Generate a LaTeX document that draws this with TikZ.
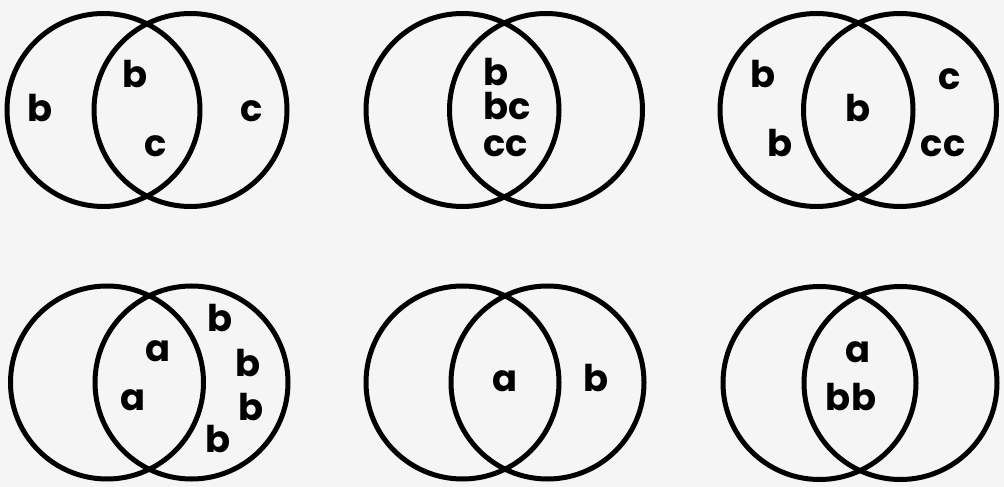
\documentclass[tikz,border=0pt]{standalone}
\usepackage{fontspec}
\setmainfont{Poppins}
\begin{document}
\begin{tikzpicture}[x=1bp,y=-1bp,
  ring/.style={draw=black,line width=5bp},
  lbl/.style={anchor=base,inner sep=0pt,font=\fontsize{37}{37}\selectfont\bfseries}]
\fill[white!96!black] (0,0) rectangle (1004,487);
\useasboundingbox (0,0) rectangle (1004,487);
% top row
\draw[ring] (103.5,110) circle[radius=96.5];
\draw[ring] (190.5,110) circle[radius=96.5];
\draw[ring] (462.5,110) circle[radius=96.5];
\draw[ring] (546,110) circle[radius=96.5];
\draw[ring] (816.5,110) circle[radius=96.5];
\draw[ring] (900,110) circle[radius=96.5];
% bottom row
\draw[ring] (107,382.5) circle[radius=96.5];
\draw[ring] (191.5,382.5) circle[radius=96.5];
\draw[ring] (462.5,382.5) circle[radius=96.5];
\draw[ring] (547.5,382.5) circle[radius=96.5];
\draw[ring] (819.5,383) circle[radius=96.5];
\draw[ring] (900.5,383) circle[radius=96.5];
% labels top-left
\node[lbl] (t1a) at (40,121.7) {b};
\node[lbl] (t1b) at (135,88) {b};
\node[lbl] (t1c) at (156,156.7) {c};
\node[lbl] (t1d) at (252,121.7) {c};
% top-middle
\node[lbl,anchor=base west] (t2a) at (483,86) {b};
\node[lbl,anchor=base west] (t2b) at (483,120) {bc};
\node[lbl,anchor=base west] (t2c) at (483,156.7) {cc};
% top-right
\node[lbl] (t3a) at (763.5,88) {b};
\node[lbl] (t3b) at (780,157) {b};
\node[lbl] (t3c) at (858,122) {b};
\node[lbl] (t3d) at (950,90) {c};
\node[lbl] (t3e) at (943,157) {cc};
% bottom-left
\node[lbl] (b1a) at (158,362) {a};
\node[lbl] (b1b) at (133,410) {a};
\node[lbl] (b1c) at (220,332) {b};
\node[lbl] (b1d) at (248,377) {b};
\node[lbl] (b1e) at (251,420) {b};
\node[lbl] (b1f) at (218,452) {b};
% bottom-middle
\node[lbl] (b2a) at (505,391) {a};
\node[lbl] (b2b) at (596,391) {b};
% bottom-right
\node[lbl] (b3a) at (858,363) {a};
\node[lbl] (b3b) at (851,410) {bb};
\end{tikzpicture}
\end{document}
